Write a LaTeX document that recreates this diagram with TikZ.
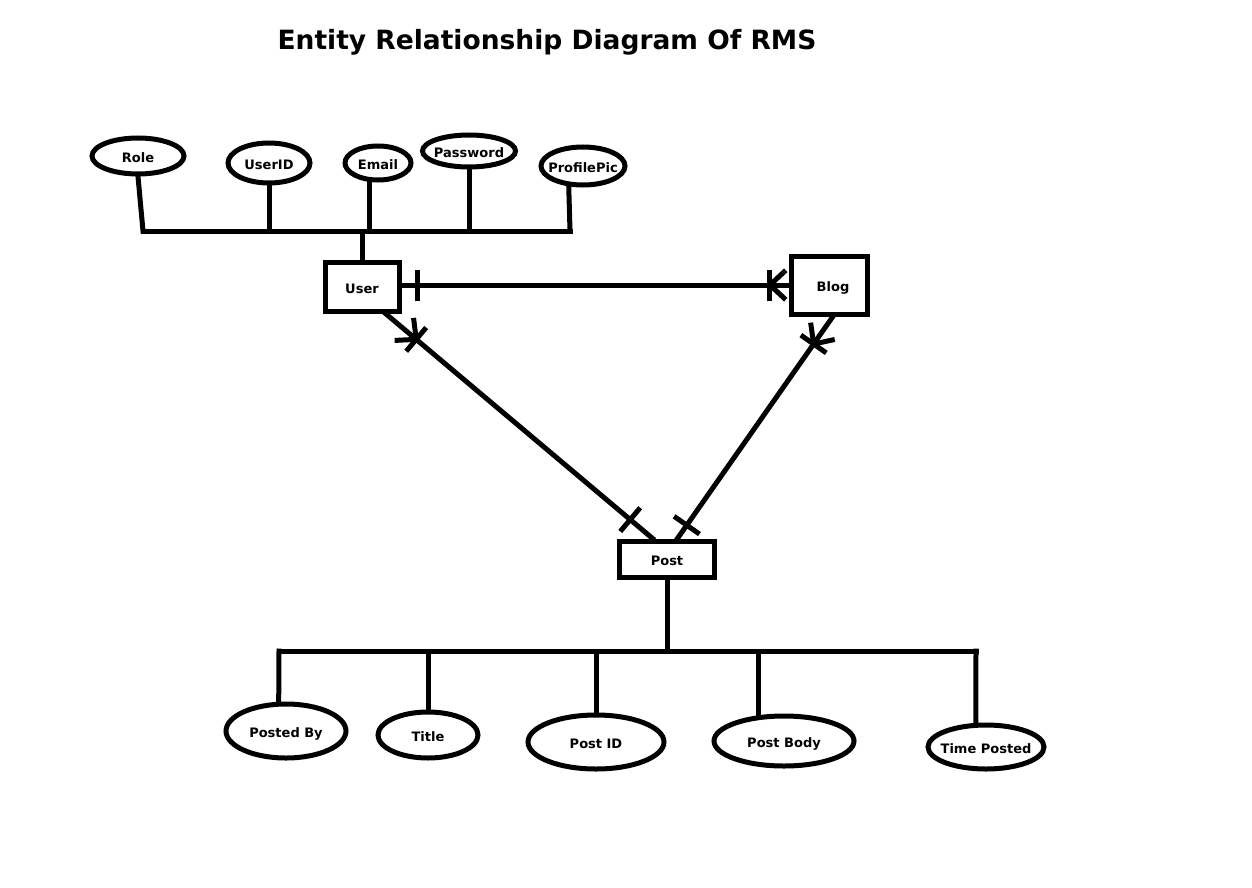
\documentclass[tikz,border=0pt]{standalone}
\usepackage{fontspec}
\setmainfont{DejaVu Sans}
\usetikzlibrary{shapes.geometric, positioning}

\begin{document}
\begin{tikzpicture}[
    x=1pt, y=-1pt,
    line width=5pt, line cap=rect,
    font=\bfseries\fontsize{13}{15}\selectfont,
    entity/.style={rectangle, draw, inner sep=0pt, text height=13.5pt, text depth=0pt},
    attr/.style={ellipse, draw, inner sep=0pt,
                 label={[text height=13pt, text depth=0pt]center:#1}},
    onpath/.style={sloped, allow upside down},
    onebar/.pic={\draw (0,-13) -- (0,13);},
    crowfoot/.pic={\draw (0,-13) -- (0,13); \draw (-14,-13) -- (0,0) -- (-14,13);},
]
\useasboundingbox (0,0) rectangle (1252,888);

\node[font=\bfseries\fontsize{26.5}{32}\selectfont] (title) at (547,42) {Entity Relationship Diagram Of RMS};

\node[entity, minimum width=74, minimum height=49] (user) at (362,286.5) {User};
\node[entity, minimum width=76, minimum height=58] (blog) at (829,285) {\hspace{8pt}Blog};
\node[entity, minimum width=95, minimum height=36] (post) at (667,559) {Post};

\node[attr=Role,       minimum width=92, minimum height=36] (role)       at (138,156) {};
\node[attr=UserID,     minimum width=82, minimum height=40] (userid)     at (269,163) {};
\node[attr=Email,      minimum width=66, minimum height=34] (email)      at (378,163) {};
\node[attr=Password,   minimum width=93, minimum height=32] (password)   at (469,151) {};
\node[attr=ProfilePic, minimum width=84, minimum height=38] (profilepic) at (583,166) {};

\node[attr=Posted By,   minimum width=120, minimum height=54] (postedby)   at (286,731) {};
\node[attr=Title,       minimum width=100, minimum height=46] (title2)     at (428,735) {};
\node[attr=Post ID,     minimum width=136, minimum height=54] (postid)     at (596,742) {};
\node[attr=Post Body,   minimum width=140, minimum height=50] (postbody)   at (784,741) {};
\node[attr=Time Posted, minimum width=116, minimum height=44] (timeposted) at (986,747) {};

\coordinate (ubusL) at (143,231);
\coordinate (ubusR) at (570,231);
\coordinate (pbusL) at (279,651);
\coordinate (pbusR) at (976,651);

\draw (ubusL) -- (ubusR);
\draw (role.south) -- (ubusL);
\draw (userid.south) -- (userid.south |- ubusL);
\draw (email.-113) -- (email.-113 |- ubusL);
\draw (password.south) -- (password.south |- ubusL);
\draw (profilepic.-125) -- (ubusR);
\draw (user.north) -- (user.north |- ubusL);

\draw (post.south) -- (post.south |- pbusL);
\draw (pbusL) -- (pbusR);
\draw (postedby.104) -- (pbusL);
\draw (title2.north) -- (title2.north |- pbusL);
\draw (postid.north) -- (postid.north |- pbusL);
\draw (postbody.135) -- (postbody.135 |- pbusL);
\draw (timeposted.113) -- (pbusR);

\draw (blog.west) -- pic[onpath, pos=.048]{crowfoot} pic[onpath, pos=.959]{onebar} (blog.west -| user.east);
\draw (user.-49) -- pic[onpath, pos=.115]{crowfoot} pic[onpath, pos=.916]{onebar} (post.125);
\draw (blog.-83) -- pic[onpath, pos=.124]{crowfoot} pic[onpath, pos=.94]{onebar} (post.63);
\end{tikzpicture}
\end{document}
